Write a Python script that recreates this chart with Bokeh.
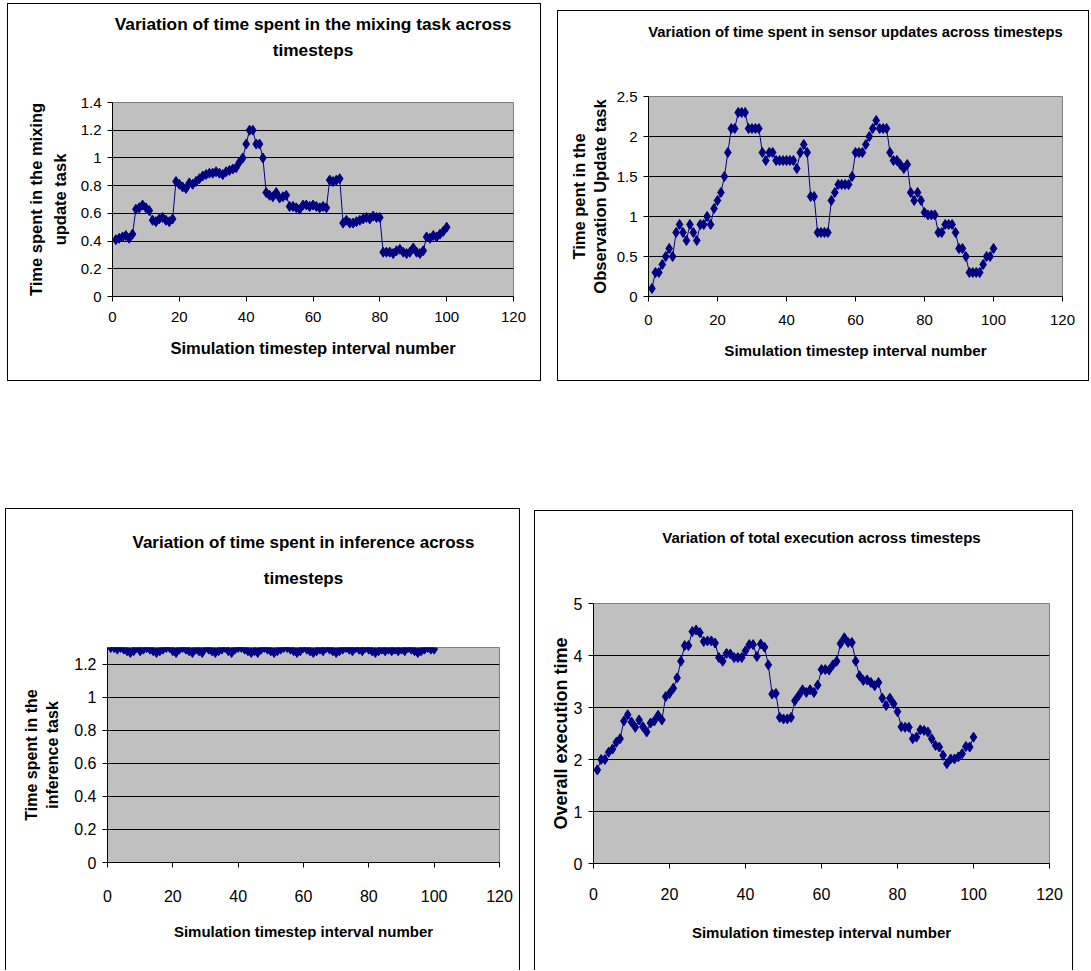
from bokeh.plotting import figure
from bokeh.layouts import row, column, Spacer
from bokeh.models import FixedTicker, CustomJSTickFormatter, ColumnDataSource, Title
from bokeh.embed import file_html
from bokeh.resources import INLINE

# ---------------- data ----------------
timestep = list(range(1, 101))

mixing = [
    0.41, 0.42, 0.43, 0.44, 0.42, 0.45, 0.63, 0.64, 0.66, 0.64,
    0.62, 0.55, 0.54, 0.56, 0.57, 0.55, 0.54, 0.56, 0.83, 0.81,
    0.79, 0.78, 0.82, 0.81, 0.83, 0.85, 0.87, 0.88, 0.89, 0.89,
    0.90, 0.89, 0.88, 0.90, 0.91, 0.92, 0.93, 0.97, 1.00, 1.10,
    1.20, 1.20, 1.10, 1.10, 1.00, 0.75, 0.73, 0.72, 0.75, 0.71,
    0.72, 0.73, 0.65, 0.65, 0.64, 0.63, 0.66, 0.66, 0.65, 0.66,
    0.65, 0.64, 0.65, 0.64, 0.84, 0.83, 0.84, 0.85, 0.53, 0.55,
    0.53, 0.53, 0.54, 0.55, 0.56, 0.57, 0.56, 0.58, 0.57, 0.57,
    0.32, 0.32, 0.32, 0.31, 0.33, 0.34, 0.32, 0.31, 0.32, 0.35,
    0.32, 0.31, 0.33, 0.43, 0.42, 0.44, 0.43, 0.45, 0.47, 0.50,
]

sensor = [
    0.1, 0.3, 0.3, 0.4, 0.5, 0.6, 0.5, 0.8, 0.9, 0.8,
    0.7, 0.9, 0.8, 0.7, 0.9, 0.9, 1.0, 0.9, 1.1, 1.2,
    1.3, 1.5, 1.8, 2.1, 2.1, 2.3, 2.3, 2.3, 2.1, 2.1,
    2.1, 2.1, 1.8, 1.7, 1.8, 1.8, 1.7, 1.7, 1.7, 1.7,
    1.7, 1.7, 1.6, 1.8, 1.9, 1.8, 1.25, 1.25, 0.8, 0.8,
    0.8, 0.8, 1.2, 1.3, 1.4, 1.4, 1.4, 1.4, 1.5, 1.8,
    1.8, 1.8, 1.9, 2.0, 2.1, 2.2, 2.1, 2.1, 2.1, 1.8,
    1.7, 1.7, 1.65, 1.6, 1.65, 1.3, 1.2, 1.3, 1.2, 1.05,
    1.02, 1.02, 1.02, 0.8, 0.8, 0.9, 0.9, 0.9, 0.8, 0.6,
    0.6, 0.5, 0.3, 0.3, 0.3, 0.3, 0.4, 0.5, 0.5, 0.6,
]

inference = [
    1.30, 1.30, 1.29, 1.30, 1.29, 1.28, 1.27, 1.28, 1.30, 1.28,
    1.29, 1.30, 1.29, 1.28, 1.27, 1.28, 1.29, 1.30, 1.30, 1.28,
    1.27, 1.29, 1.30, 1.29, 1.28, 1.27, 1.29, 1.28, 1.27, 1.30,
    1.29, 1.28, 1.27, 1.28, 1.29, 1.30, 1.28, 1.27, 1.29, 1.30,
    1.30, 1.29, 1.28, 1.27, 1.28, 1.27, 1.29, 1.30, 1.29, 1.28,
    1.27, 1.28, 1.29, 1.30, 1.30, 1.29, 1.28, 1.27, 1.28, 1.30,
    1.29, 1.28, 1.27, 1.28, 1.29, 1.28, 1.30, 1.29, 1.28, 1.27,
    1.28, 1.29, 1.30, 1.29, 1.28, 1.30, 1.29, 1.28, 1.30, 1.29,
    1.28, 1.27, 1.28, 1.29, 1.28, 1.29, 1.28, 1.29, 1.28, 1.29,
    1.28, 1.30, 1.29, 1.28, 1.27, 1.28, 1.29, 1.30, 1.29, 1.29,
]

total = [
    1.80, 2.00, 2.00, 2.14, 2.20, 2.33, 2.40, 2.74, 2.86, 2.72,
    2.62, 2.76, 2.63, 2.53, 2.70, 2.74, 2.85, 2.76, 3.21, 3.27,
    3.37, 3.57, 3.89, 4.19, 4.19, 4.46, 4.49, 4.44, 4.27, 4.28,
    4.28, 4.24, 3.96, 3.89, 4.04, 4.03, 3.96, 3.96, 3.96, 4.09,
    4.21, 4.21, 3.98, 4.22, 4.16, 3.82, 3.26, 3.27, 2.81, 2.78,
    2.78, 2.81, 3.13, 3.23, 3.34, 3.29, 3.34, 3.29, 3.43, 3.73,
    3.73, 3.72, 3.82, 3.89, 4.23, 4.34, 4.25, 4.25, 3.89, 3.61,
    3.52, 3.53, 3.48, 3.42, 3.48, 3.18, 3.04, 3.18, 3.07, 2.92,
    2.63, 2.62, 2.62, 2.40, 2.43, 2.57, 2.56, 2.53, 2.40, 2.27,
    2.24, 2.08, 1.92, 2.01, 2.01, 2.05, 2.11, 2.25, 2.24, 2.43,
]

x_ticks = [0, 20, 40, 60, 80, 100, 120]
mixing_ticks = [0, 0.2, 0.4, 0.6, 0.8, 1, 1.2, 1.4]
sensor_ticks = [0, 0.5, 1, 1.5, 2, 2.5]
inference_ticks = [0, 0.2, 0.4, 0.6, 0.8, 1, 1.2]
total_ticks = [0, 1, 2, 3, 4, 5]

x_label = "Simulation timestep interval number"

NAVY = "#000080"
PLOT_BG = "#C0C0C0"
SANS = "Liberation Sans"

fmt = CustomJSTickFormatter(code="""
    return (Math.round(tick * 100) / 100).toString();
""")


def title_figure(cfg):
    """A thin white strip holding the (centred) title lines."""
    w, h = cfg["w"], cfg["title_h"]
    t = figure(width=w, height=h, output_backend="svg", toolbar_location=None,
               min_border_left=0, min_border_right=0, min_border_bottom=0,
               min_border_top=cfg["title_frame_top"],
               x_axis_location=None, y_axis_location=None, title=None)
    t.grid.visible = False
    t.outline_line_color = None
    t.background_fill_color = "white"
    t.border_fill_color = "white"
    # lines are stacked outward from the frame: add the bottom line first
    for txt, standoff in reversed(list(zip(cfg["title"], cfg["title_standoff"]))):
        t.add_layout(Title(text=txt, align="center", standoff=standoff,
                           offset=cfg["title_offset"], text_font=SANS,
                           text_font_size=cfg["title_size"],
                           text_font_style="bold", text_color="black"),
                     "above")
    return t


def chart_figure(cfg):
    left, right, top, bottom = cfg["borders"]
    p = figure(width=cfg["w"], height=cfg["h"] - cfg["title_h"],
               x_range=(0, 120), y_range=(0, cfg["ymax"]), title=None,
               output_backend="svg", toolbar_location=None,
               min_border_left=left, min_border_right=right,
               min_border_top=top, min_border_bottom=bottom)
    p.background_fill_color = PLOT_BG
    p.border_fill_color = "white"
    p.outline_line_color = "#808080"
    p.outline_line_width = 1

    src = ColumnDataSource(dict(x=timestep, y=cfg["y"]))
    p.line("x", "y", source=src, line_color=NAVY, line_width=1)
    p.scatter("x", "y", source=src, marker="diamond", size=10,
              fill_color=NAVY, line_color=NAVY)

    p.xgrid.grid_line_color = None
    p.ygrid.grid_line_color = "black"
    p.ygrid.grid_line_width = 1
    p.ygrid.ticker = FixedTicker(ticks=cfg["grid"])

    axes = ((p.xaxis[0], x_label, cfg["xlab"], cfg["xtick_standoff"]),
            (p.yaxis[0], cfg["ylabel"], cfg["ylab"], cfg["ytick_standoff"]))
    for ax, lab, (size, standoff, lh), tstand in axes:
        ax.axis_label = lab
        ax.axis_label_text_font = SANS
        ax.axis_label_text_font_size = size
        ax.axis_label_text_font_style = "bold"
        ax.axis_label_text_color = "black"
        ax.axis_label_text_line_height = lh
        ax.axis_label_standoff = standoff
        ax.axis_line_color = "black"
        ax.major_tick_line_color = "black"
        ax.major_tick_out = 5
        ax.major_tick_in = 0
        ax.minor_tick_out = 0
        ax.minor_tick_in = 0
        ax.minor_tick_line_color = None
        ax.major_label_text_font = SANS
        ax.major_label_text_font_size = cfg["tick_size"]
        ax.major_label_text_color = "black"
        ax.major_label_standoff = tstand
        ax.formatter = fmt
    p.xaxis.ticker = FixedTicker(ticks=x_ticks)
    p.yaxis.ticker = FixedTicker(ticks=cfg["yticks"])
    return p


def panel(cfg):
    box = column(title_figure(cfg), chart_figure(cfg))
    box.styles = cfg["css"]
    return box


BOX = {"border": "1px solid black"}
BOX_OPEN = {"border": "1px solid black", "border-bottom": "0px"}

g1 = panel(dict(
    title=["Variation of time spent in the mixing task across", "timesteps"],
    title_h=70, title_frame_top=55, title_standoff=[6.5, 0], title_offset=-39,
    title_size="17.3px",
    ylabel="Time spent in the mixing\nupdate task", y=mixing, ymax=1.4,
    yticks=mixing_ticks, grid=mixing_ticks[1:-1],
    w=532, h=376, borders=(104, 27, 28, 84), css=BOX,
    ylab=("16.5px", 9, 1.33), xlab=("16.5px", 14, 1.2),
    tick_size="15px", xtick_standoff=10, ytick_standoff=6))

g2 = panel(dict(
    title=["Variation of time spent in sensor updates across timesteps"],
    title_h=50, title_frame_top=28, title_standoff=[0], title_offset=-23,
    title_size="14.8px",
    ylabel="Time pent in the\nObservation Update task", y=sensor, ymax=2.5,
    yticks=sensor_ticks, grid=sensor_ticks[1:-1],
    w=530, h=369, borders=(90, 26, 35, 84), css=BOX,
    ylab=("16.5px", 5, 1.15), xlab=("15.2px", 14, 1.2),
    tick_size="15px", xtick_standoff=13, ytick_standoff=6))

g3 = panel(dict(
    title=["Variation of time spent in inference across", "timesteps"],
    title_h=100, title_frame_top=78, title_standoff=[29, 0], title_offset=-39.5,
    title_size="17px",
    ylabel="Time spent in the\ninference task", y=inference, ymax=1.3,
    yticks=inference_ticks, grid=inference_ticks[1:],
    w=513, h=461, borders=(101, 20, 38, 108), css=BOX_OPEN,
    ylab=("16px", 10, 1.25), xlab=("15px", 18, 1.2),
    tick_size="16px", xtick_standoff=22, ytick_standoff=6))

g4 = panel(dict(
    title=["Variation of total execution across timesteps"],
    title_h=50, title_frame_top=34, title_standoff=[0], title_offset=-15.5,
    title_size="15px",
    ylabel="Overall execution time", y=total, ymax=5,
    yticks=total_ticks, grid=total_ticks[1:-1],
    w=537, h=459, borders=(58, 23, 42, 107), css=BOX_OPEN,
    ylab=("18px", 0, 1.2), xlab=("15px", 21, 1.2),
    tick_size="16px", xtick_standoff=19, ytick_standoff=6))

top_row = row(Spacer(width=7), g1, Spacer(width=16),
              column(Spacer(height=7), g2))
bottom_row = row(Spacer(width=5), g3, Spacer(width=14),
                 column(Spacer(height=2), g4))
layout = column(Spacer(height=3), top_row, Spacer(height=127), bottom_row)

open("out.html", "w").write(file_html(layout, INLINE))
